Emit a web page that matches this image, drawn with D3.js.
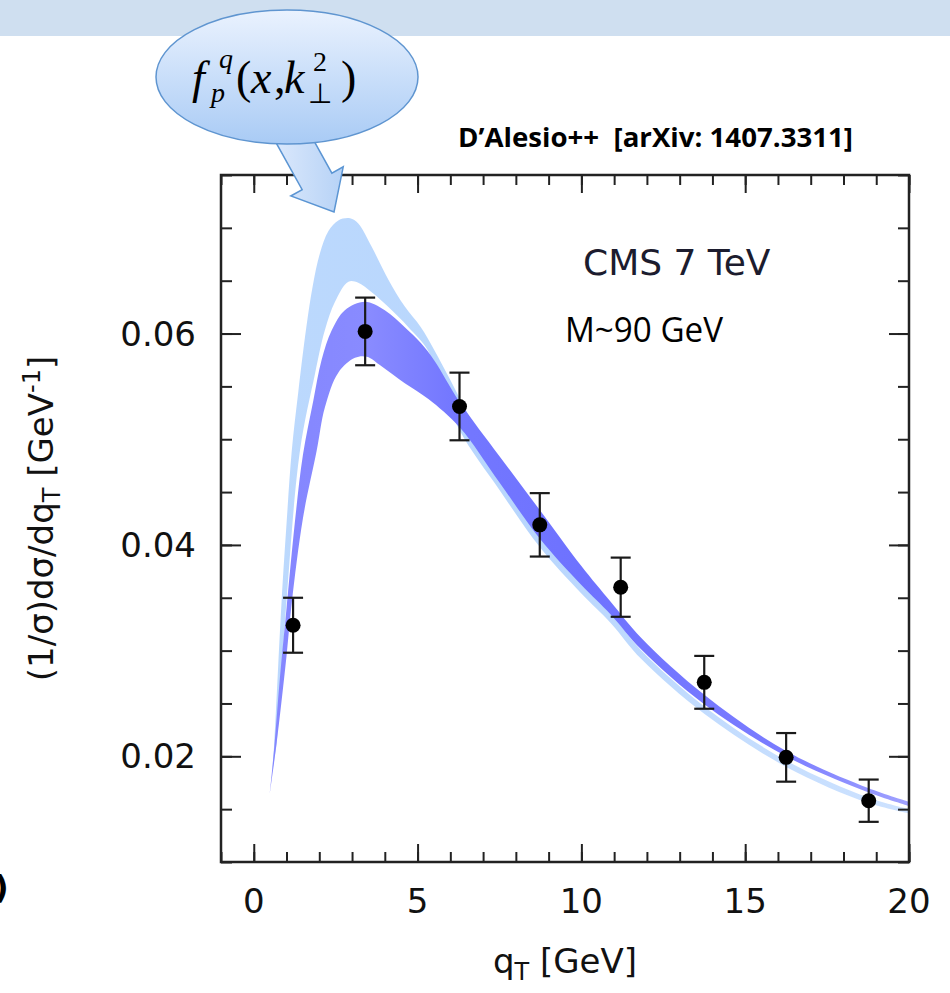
<!DOCTYPE html>
<html>
<head>
<meta charset="utf-8">
<script src="https://cdn.jsdelivr.net/npm/d3@7"></script>
<style>
  body { margin: 0; background: #fff; }
  svg { display: block; }
</style>
</head>
<body>
<svg id="chart" width="950" height="993"></svg>
<script>
// CMS 7 TeV data points (qT bin, value, error)
const qT = [1.2, 3.4, 6.28, 8.73, 11.2, 13.75, 16.25, 18.77];
const sigma = [0.0324, 0.0602, 0.0531, 0.0419, 0.0360, 0.0270, 0.0199, 0.0158];
const sigmaErr = [0.0026, 0.0032, 0.0032, 0.0030, 0.0028, 0.0025, 0.0023, 0.0020];

// light blue band edges [qT, value]
const lightUpper = [[0.56, 0.0185], [0.62, 0.0210], [0.85, 0.0347], [1.0, 0.0420], [1.16, 0.0489],
  [1.36, 0.0545], [1.6, 0.0605], [1.8, 0.0645], [2.02, 0.0676], [2.28, 0.0697], [2.58, 0.0707],
  [2.94, 0.0709], [3.19, 0.0704], [3.6, 0.0682], [4.11, 0.0651], [4.6, 0.0626], [5.1, 0.0606],
  [5.5, 0.0585], [6.0, 0.0556], [6.5, 0.0526], [7.0, 0.0498], [7.5, 0.0466], [8.73, 0.0408],
  [10.0, 0.0364], [10.9, 0.0335], [11.83, 0.0300], [13.76, 0.0247], [16.25, 0.0196], [18.75, 0.0161], [20, 0.0150]];
const lightLower = [[0.56, 0.0185], [0.7, 0.0213], [1.0, 0.0347], [1.41, 0.0489], [1.87, 0.0562],
  [2.17, 0.0603], [2.48, 0.0630], [2.89, 0.0649], [3.19, 0.0648], [3.6, 0.0639], [4.11, 0.0625],
  [4.72, 0.0606], [5.3, 0.0585], [5.6, 0.0560], [6.29, 0.0508], [7.5, 0.0452], [8.73, 0.0398],
  [10.0, 0.0354], [10.9, 0.0326], [11.83, 0.0292], [13.76, 0.0240], [16.25, 0.0190], [18.75, 0.0156], [20, 0.0146]];

// dark blue band edges
const darkUpper = [[0.49, 0.0165], [0.63, 0.0210], [0.8, 0.0275], [1.0, 0.0340], [1.25, 0.0420],
  [1.5, 0.0485], [1.82, 0.0537], [2.07, 0.0575], [2.38, 0.0603], [2.78, 0.0622], [3.39, 0.0630],
  [4.0, 0.0622], [4.61, 0.0606], [5.1, 0.0591], [5.5, 0.0575], [6.29, 0.0535], [7.5, 0.0484],
  [8.73, 0.0433], [10.0, 0.0380], [10.9, 0.0346], [11.83, 0.0312], [13.76, 0.0258], [16.25, 0.0205],
  [18.75, 0.0170], [20, 0.0157]];
const darkLower = [[0.49, 0.0165], [0.7, 0.0213], [1.0, 0.0295], [1.16, 0.0345], [1.5, 0.0425],
  [1.92, 0.0489], [2.17, 0.0530], [2.58, 0.0563], [3.09, 0.0577], [3.45, 0.0578], [3.9, 0.0569],
  [4.61, 0.0553], [5.33, 0.0538], [6.29, 0.0511], [7.5, 0.0459], [8.73, 0.0406], [10.0, 0.0362],
  [10.9, 0.0334], [11.83, 0.0301], [13.76, 0.0249], [16.25, 0.0200], [18.75, 0.0166], [20, 0.0153]];

const xMajor = [0, 5, 10, 15, 20];
const yMajor = [0.02, 0.04, 0.06];

const svg = d3.select('#chart');
const margin = { left: 221, right: 41, top: 175, bottom: 131 };
const width = +svg.attr('width');
const height = +svg.attr('height');

const x = d3.scaleLinear().domain([-1, 20]).range([margin.left, width - margin.right]);
const y = d3.scaleLinear().domain([0.01, 0.075]).range([height - margin.bottom, margin.top]);

const defs = svg.append('defs');

// slide header strip
svg.append('rect')
    .attr('x', 0).attr('y', 0)
    .attr('width', width).attr('height', 36)
    .attr('fill', '#cfdff0');

// band colours shift a little along qT, like the original render
const bandGrad = (id, stops) => {
  const g = defs.append('linearGradient').attr('id', id)
      .attr('gradientUnits', 'userSpaceOnUse')
      .attr('x1', x(0)).attr('x2', x(20)).attr('y1', 0).attr('y2', 0);
  stops.forEach(([q, c]) => g.append('stop').attr('offset', q / 20).attr('stop-color', c));
};
bandGrad('lightGrad', [[0, '#bcd9fd'], [8, '#b8d6fd'], [20, '#cde2ff']]);
bandGrad('darkGrad', [[0, '#8385ff'], [3.5, '#898bff'], [6, '#7478ff'], [10, '#6e72ff'], [16, '#7a7cff'], [20, '#a0a2ff']]);

const edge = d3.line()
    .x(d => x(d[0]))
    .y(d => y(d[1]))
    .curve(d3.curveCatmullRom.alpha(0.5));
const band = (upper, lower) =>
  edge(upper) + edge(lower.slice().reverse()).replace(/^M/, 'L') + 'Z';

svg.append('path')
    .attr('d', band(lightUpper, lightLower))
    .attr('fill', 'url(#lightGrad)');
svg.append('path')
    .attr('d', band(darkUpper, darkLower))
    .attr('fill', 'url(#darkGrad)');

// axes: ticks inside on all four sides
const plotH = height - margin.top - margin.bottom;
const plotW = width - margin.left - margin.right;
const xMinor = d3.range(-1, 21, 1);
const yMinor = d3.range(0.01, 0.0751, 0.005);

const tickG = svg.append('g').attr('class', 'ticks');
const axes = [
  [d3.axisBottom(x).tickValues(xMinor).tickSize(-10), `translate(0,${height - margin.bottom})`],
  [d3.axisBottom(x).tickValues(xMajor).tickSize(-18), `translate(0,${height - margin.bottom})`],
  [d3.axisTop(x).tickValues(xMinor).tickSize(-10), `translate(0,${margin.top})`],
  [d3.axisTop(x).tickValues(xMajor).tickSize(-18), `translate(0,${margin.top})`],
  [d3.axisLeft(y).tickValues(yMinor).tickSize(-11), `translate(${margin.left},0)`],
  [d3.axisLeft(y).tickValues(yMajor).tickSize(-20), `translate(${margin.left},0)`],
  [d3.axisRight(y).tickValues(yMinor).tickSize(-11), `translate(${width - margin.right},0)`],
  [d3.axisRight(y).tickValues(yMajor).tickSize(-20), `translate(${width - margin.right},0)`]
];
axes.forEach(([ax, tr]) => {
  const g = tickG.append('g').attr('transform', tr).call(ax.tickFormat(''));
  g.select('.domain').remove();
  g.selectAll('.tick line').attr('stroke', '#222').attr('stroke-width', 2);
});

svg.append('rect')
    .attr('x', margin.left).attr('y', margin.top)
    .attr('width', plotW).attr('height', plotH)
    .attr('fill', 'none')
    .attr('stroke', '#222')
    .attr('stroke-width', 2.5);

// tick labels
svg.append('g').selectAll('text').data(xMajor).join('text')
    .attr('x', d => x(d))
    .attr('y', height - margin.bottom + 51)
    .attr('text-anchor', 'middle')
    .attr('font-family', 'DejaVu Sans')
    .attr('font-size', 34)
    .attr('fill', '#111')
    .text(d => d);
svg.append('g').selectAll('text').data(yMajor).join('text')
    .attr('x', margin.left - 25)
    .attr('y', d => y(d) + 12)
    .attr('text-anchor', 'end')
    .attr('font-family', 'DejaVu Sans')
    .attr('font-size', 34)
    .attr('fill', '#111')
    .text(d => d.toFixed(2));

// axis titles
const xTitle = svg.append('text')
    .attr('x', margin.left + plotW / 2)
    .attr('y', 973)
    .attr('text-anchor', 'middle')
    .attr('font-family', 'DejaVu Sans')
    .attr('font-size', 34)
    .attr('fill', '#111');
xTitle.append('tspan').text('q');
xTitle.append('tspan').attr('font-size', 24).attr('dy', 7).text('T');
xTitle.append('tspan').attr('dy', -7).text(' [GeV]');

const yTitle = svg.append('text')
    .attr('transform', `translate(53,${margin.top + plotH / 2}) rotate(-90)`)
    .attr('text-anchor', 'middle')
    .attr('font-family', 'DejaVu Sans')
    .attr('font-size', 34)
    .attr('fill', '#111');
yTitle.append('tspan').text('(1/σ)dσ/dq');
yTitle.append('tspan').attr('font-size', 24).attr('dy', 7).text('T');
yTitle.append('tspan').attr('dy', -7).text(' [GeV');
yTitle.append('tspan').attr('font-size', 24).attr('dy', -13).text('-1');
yTitle.append('tspan').attr('dy', 13).text(']');

// data points with error bars
const pts = qT.map((q, i) => ({ q, v: sigma[i], e: sigmaErr[i] }));
const pg = svg.append('g').selectAll('g').data(pts).join('g');
pg.append('line')
    .attr('x1', d => x(d.q)).attr('x2', d => x(d.q))
    .attr('y1', d => y(d.v - d.e)).attr('y2', d => y(d.v + d.e))
    .attr('stroke', '#1a1a1a').attr('stroke-width', 2.2);
[-1, 1].forEach(s => {
  pg.append('line')
      .attr('x1', d => x(d.q) - 10).attr('x2', d => x(d.q) + 10)
      .attr('y1', d => y(d.v + s * d.e)).attr('y2', d => y(d.v + s * d.e))
      .attr('stroke', '#1a1a1a').attr('stroke-width', 2.2);
});
pg.append('circle')
    .attr('cx', d => x(d.q)).attr('cy', d => y(d.v))
    .attr('r', 7.5)
    .attr('fill', '#000');

// labels inside the plot
svg.append('text')
    .attr('x', 583).attr('y', 275)
    .attr('font-family', 'DejaVu Sans')
    .attr('font-size', 36)
    .attr('fill', '#1c1c2e')
    .text('CMS 7 TeV');
svg.append('text')
    .attr('x', 565).attr('y', 342)
    .attr('font-family', 'Open Sans')
    .attr('font-size', 35)
    .attr('textLength', 158)
    .attr('lengthAdjust', 'spacingAndGlyphs')
    .attr('fill', '#000')
    .text('M~90 GeV');
svg.append('text')
    .attr('x', 458).attr('y', 147)
    .attr('font-family', 'Open Sans')
    .attr('font-weight', 'bold')
    .attr('font-size', 27)
    .attr('textLength', 395)
    .attr('lengthAdjust', 'spacingAndGlyphs')
    .attr('fill', '#000')
    .text('D\u2019Alesio++\u00a0 [arXiv: 1407.3311]');

// callout bubble with arrow pointing at the band peak
const bg = defs.append('linearGradient').attr('id', 'bubbleGrad')
    .attr('x1', 0).attr('y1', 0).attr('x2', 0).attr('y2', 1);
bg.append('stop').attr('offset', '0%').attr('stop-color', '#eaf2fe');
bg.append('stop').attr('offset', '100%').attr('stop-color', '#a9cbf5');
const ag = defs.append('linearGradient').attr('id', 'arrowGrad')
    .attr('x1', 0).attr('y1', 0).attr('x2', 1).attr('y2', 0);
ag.append('stop').attr('offset', '0%').attr('stop-color', '#dce9fc');
ag.append('stop').attr('offset', '100%').attr('stop-color', '#b6d2f6');

const tip = [x(2.45), y(0.0715)];
const dir = [0.486, 0.874], perp = [0.874, -0.486];
const at = (base, along, across) => [base[0] + along * dir[0] + across * perp[0],
                                     base[1] + along * dir[1] + across * perp[1]];
const arrowPts = [at(tip, -95, 17), at(tip, -35, 17), at(tip, -35, 30), tip,
                  at(tip, -35, -30), at(tip, -35, -17), at(tip, -95, -17)];
svg.append('polygon')
    .attr('points', arrowPts.map(p => p.join(',')).join(' '))
    .attr('fill', 'url(#arrowGrad)')
    .attr('stroke', '#5b95d3')
    .attr('stroke-width', 1.5);

svg.append('ellipse')
    .attr('cx', 287).attr('cy', 77)
    .attr('rx', 131).attr('ry', 67)
    .attr('fill', 'url(#bubbleGrad)')
    .attr('stroke', '#5f95d0')
    .attr('stroke-width', 1.5);

const formula = svg.append('g')
    .attr('font-family', 'Liberation Serif')
    .attr('fill', '#000');
formula.append('text').attr('x', 192).attr('y', 93).attr('font-size', 46)
    .attr('font-style', 'italic').text('f');
formula.append('text').attr('x', 219).attr('y', 68).attr('font-size', 28)
    .attr('font-style', 'italic').text('q');
formula.append('text').attr('x', 211).attr('y', 102).attr('font-size', 28)
    .attr('font-style', 'italic').text('p');
formula.append('text').attr('x', 236).attr('y', 93).attr('font-size', 46).text('(');
formula.append('text').attr('x', 251).attr('y', 93).attr('font-size', 46)
    .attr('font-style', 'italic').text('x');
formula.append('text').attr('x', 274).attr('y', 93).attr('font-size', 46).text(',');
formula.append('text').attr('x', 284).attr('y', 93).attr('font-size', 46)
    .attr('font-style', 'italic').text('k');
formula.append('text').attr('x', 313).attr('y', 71).attr('font-size', 28).text('2');
formula.append('text').attr('x', 308).attr('y', 103).attr('font-size', 28).text('\u22A5');
formula.append('text').attr('x', 341).attr('y', 93).attr('font-size', 46).text(')');

// fragment of slide text at the left edge
svg.append('text')
    .attr('x', -6).attr('y', 898)
    .attr('font-family', 'DejaVu Sans')
    .attr('font-weight', 'bold')
    .attr('font-size', 32)
    .attr('fill', '#000')
    .text(')');
</script>
</body>
</html>
